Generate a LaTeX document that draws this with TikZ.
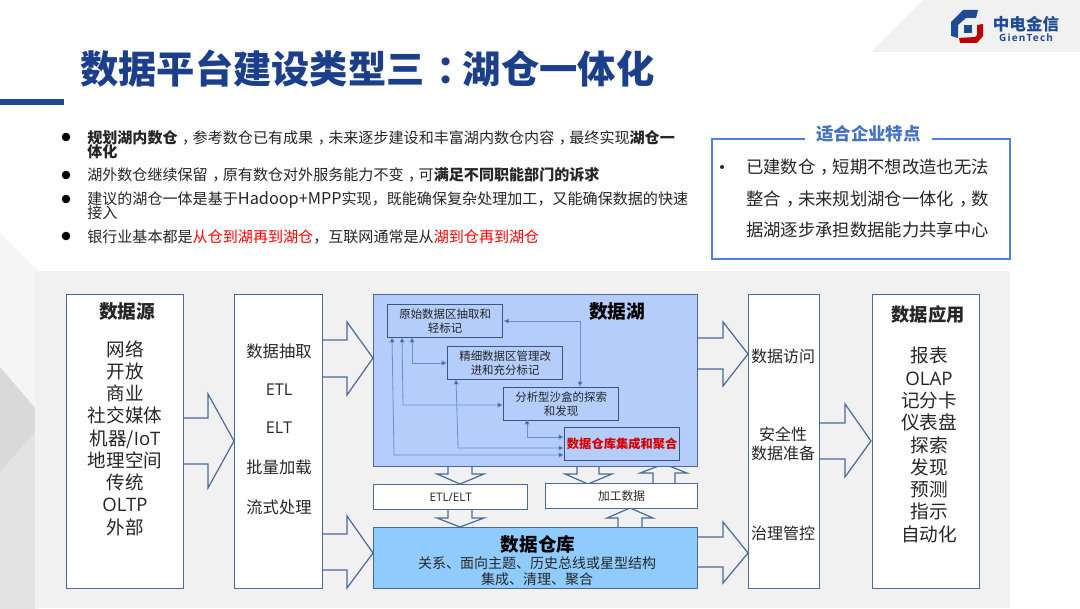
\documentclass[tikz,border=0pt]{standalone}
\usepackage{fontspec}
\setmainfont{Noto Sans CJK SC}
\newfontfamily\lat{Open Sans}
\usetikzlibrary{arrows.meta}
\definecolor{edge}{HTML}{4A6A9C}
\definecolor{navy}{HTML}{1F4A94}
\definecolor{titlec}{HTML}{1C3F8C}
\definecolor{lake}{HTML}{B4CDFB}
\definecolor{wh}{HTML}{8FCCFD}
\definecolor{panel}{HTML}{F1F1F1}
\definecolor{ink}{HTML}{262626}
\definecolor{linkc}{HTML}{6C8FCB}
\definecolor{featb}{HTML}{4F81E0}
\definecolor{featt}{HTML}{4472C4}
\newcommand{\ccm}{\hspace{.3em}，\hspace{-.3em}}
\tikzset{x=0.75pt,y=-0.75pt,
 box/.style={draw=edge,line width=1pt,fill=white,inner sep=0pt},
 thin2/.style={draw=edge,line width=.9pt,fill=panel},
 link/.style={draw=linkc,line width=.6pt,{Latex[length=4pt,width=4.2pt,fill=navy]}-{Latex[length=4pt,width=4.2pt,fill=navy]}},
 t/.style={text=ink,inner sep=0pt,align=center},
 bl/.style={anchor=west,inner sep=0pt,text=ink,font=\fontsize{11.3}{13}\selectfont},
}
\begin{document}
\begin{tikzpicture}
\useasboundingbox (0,0) rectangle (1080,609);
\fill[white] (0,0) rectangle (1080,609);
% backdrop
\fill[black!4] (0,233) -- (38,271) -- (38,609) -- (0,609) -- cycle;
\fill[black!15] (0,367) -- (35,408) -- (35,609) -- (0,609) -- cycle;
\fill[black!11] (35,432) -- (0,472) -- (0,609) -- (35,609) -- cycle;
\fill[panel] (35,271) rectangle (1010,608);
\fill[panel] (923,0) -- (1080,0) -- (1080,52) -- (871,52) -- cycle;
\fill[navy] (0,99) rectangle (64,105);
\node[anchor=west,inner sep=0pt,text=titlec,font=\bfseries\fontsize{28.7}{34}\selectfont] (title) at (80,69) {数据平台建设类型三\hspace{.3em}：\hspace{-.3em}湖仓一体化};
% logo
\fill[navy] (963,10) -- (978,10) -- (976,18) -- (966,18) -- (958,25) -- (958,38) -- (951,36) -- (951,22) -- cycle;
\fill[navy] (964,25) rectangle (972,33);
\fill[red!75!black] (983,24) -- (983,36) -- (977,43) -- (960,43) -- (959,38) -- (975,37) -- (977,35) -- (977,25) -- cycle;
\node[inner sep=0pt,text=navy,font=\bfseries\fontsize{12.4}{14}\selectfont] (logoa) at (1026,24) {中电金信};
\node[inner sep=0pt,text=navy,font=\lat\bfseries\fontsize{7.5}{9}\selectfont\addfontfeature{LetterSpace=12}] (logob) at (1026,38) {GienTech};
% bullets
\foreach \yy in {137,175,199,236}{\fill[black] (66,\yy) circle (4.3);}
\node[bl] (l1) at (87,138) {\textbf{规划湖内数仓}\ccm 参考数仓已有成果\ccm 未来逐步建设和丰富湖内数仓内容\ccm 最终实现\textbf{湖仓一}};
\node[bl,font=\bfseries\fontsize{11.3}{13}\selectfont] (l1b) at (87,152) {体化};
\node[bl] (l2) at (87,175) {湖外数仓继续保留\ccm 原有数仓对外服务能力不变\ccm 可\textbf{满足不同职能部门的诉求}};
\node[bl] (l3) at (87,200) {建议的湖仓一体是基于{\fontsize{12.2}{13}\selectfont Hadoop+MPP}实现，既能确保复杂处理加工，又能确保数据的快速};
\node[bl] (l3b) at (87,213) {接入};
\node[bl] (l4) at (87,237) {银行业基本都是\textcolor{red}{从仓到湖再到湖仓}，互联网通常是从\textcolor{red}{湖到仓再到湖仓}};
% feature box
\draw[draw=featb,line width=1.2pt] (712,139) rectangle (1010,259);
\node[fill=white,minimum width=95pt,minimum height=14pt,inner sep=0pt,text=featt,font=\bfseries\fontsize{13.1}{15}\selectfont] (ft) at (868.5,134) {适合企业特点};
\fill[ink] (722,167) circle (2);
\node[anchor=north west,inner sep=0pt,text=ink,align=left,font=\fontsize{13}{23.6}\selectfont] (fb) at (746,159) {已建数仓\ccm 短期不想改造也无法\\整合\ccm 未来规划湖仓一体化\ccm 数\\据湖逐步承担数据能力共享中心};
% big arrows
\draw[thin2] (183,418) -- (208,418) -- (208,394) -- (234,441) -- (208,488) -- (208,464) -- (183,464);
\draw[thin2] (322,340) -- (347,340) -- (347,322) -- (373,358) -- (347,395) -- (347,377) -- (322,377);
\draw[thin2] (322,534) -- (347,534) -- (347,516) -- (373,553) -- (347,588) -- (347,570) -- (322,570);
\draw[thin2] (697,338) -- (723,338) -- (723,322) -- (748,354) -- (723,386) -- (723,369) -- (697,369);
\draw[thin2] (697,537) -- (723,537) -- (723,522) -- (748,553) -- (723,583) -- (723,567) -- (697,567);
\draw[thin2] (819,423) -- (845,423) -- (845,404) -- (871,441) -- (845,477) -- (845,459) -- (819,459);
% columns
\node[box,minimum width=87.75pt,minimum height=220.5pt,anchor=north west] (src) at (66,294) {};
\node[box,minimum width=66pt,minimum height=220.5pt,anchor=north west] (ext) at (234,294) {};
\node[box,minimum width=53.25pt,minimum height=220.5pt,anchor=north west] (acc) at (748,294) {};
\node[box,minimum width=80.25pt,minimum height=220.5pt,anchor=north west] (app) at (872,294) {};
\node[t,font=\bfseries\fontsize{14}{16}\selectfont] (srct) at (127,311) {数据源};
\node[t,anchor=north,font=\fontsize{13.9}{16.7}\selectfont] (srcb) at (125,340) {网络\\开放\\商业\\社交媒体\\机器/{\lat IoT}\\地理空间\\传统\\{\lat OLTP}\\外部};
\node[t,font=\fontsize{12.2}{14}\selectfont] (e1) at (279,351) {数据抽取};
\node[t,font=\lat\fontsize{12.2}{14}\selectfont] (e2) at (279,390) {ETL};
\node[t,font=\lat\fontsize{12.2}{14}\selectfont] (e3) at (279,428) {ELT};
\node[t,font=\fontsize{12.2}{14}\selectfont] (e4) at (279,467) {批量加载};
\node[t,font=\fontsize{12.2}{14}\selectfont] (e5) at (279,507) {流式处理};
\node[t,font=\fontsize{12}{14}\selectfont] (a1) at (783,356) {数据访问};
\node[t,font=\fontsize{12}{14}\selectfont] (a2) at (783,444) {安全性\\数据准备};
\node[t,font=\fontsize{12}{14}\selectfont] (a3) at (783,533) {治理管控};
\node[t,font=\bfseries\fontsize{13.7}{16}\selectfont] (appt) at (928,315) {数据应用};
\node[t,anchor=north,font=\fontsize{14}{16.7}\selectfont] (appb) at (929,347) {报表\\{\lat OLAP}\\记分卡\\仪表盘\\探索\\发现\\预测\\指示\\自动化};
% small block arrows
\tikzset{sarrow/.style={draw=edge,line width=.9pt,fill=panel}}
\draw[sarrow] (448,466) -- (448,474) -- (437,474) -- (460,484) -- (484,474) -- (472,474) -- (472,466);
\draw[sarrow] (448,509) -- (448,518) -- (437,518) -- (460,527) -- (484,518) -- (472,518) -- (472,509);
\draw[sarrow] (577,466) -- (577,474) -- (565,474) -- (588,484) -- (612,474) -- (599,474) -- (599,466);
\draw[sarrow] (653,484) -- (653,473) -- (640,473) -- (664,464) -- (687,473) -- (675,473) -- (675,484);
\draw[sarrow] (618,527) -- (618,518) -- (607,518) -- (630,508) -- (653,518) -- (642,518) -- (642,527);
% lake
\node[box,fill=lake,minimum width=243pt,minimum height=129pt,anchor=north west] (lake) at (373,294) {};
\node[t,text=black,font=\bfseries\fontsize{14}{16}\selectfont] (laket) at (617,311) {数据湖};
\tikzset{sub/.style={draw=edge!80!black,line width=1pt,fill=lake,inner sep=0pt,text=ink,align=center,minimum width=86.25pt,minimum height=24.5pt,font=\fontsize{8.6}{10.5}\selectfont,anchor=north west}}
\node[sub] (r1) at (387,304) {原始数据区抽取和\\轻标记};
\node[sub] (r2) at (447,346) {精细数据区管理改\\进和充分标记};
\node[sub] (r3) at (503,387) {分析型沙盒的探索\\和发现};
\node[sub,text=red!85!black,font=\bfseries\fontsize{9.2}{11}\selectfont] (r4) at (564,427) {数据仓库集成和聚合};
% lake links
\coordinate (j1) at (580,321);
\coordinate (j1e) at (580,387);
\draw[link] (r1.east |- j1) -- (j1) -- (j1e);
\coordinate (s2) at (412,337);
\coordinate (j2) at (412,363);
\draw[link] (s2) -- (j2) -- (r2.west |- j2);
\coordinate (s3) at (402,337);
\coordinate (j3) at (403,405);
\draw[link] (s3) -- (j3) -- (r3.west |- j3);
\coordinate (s4) at (527,419);
\coordinate (j4) at (527,437);
\draw[link] (s4) -- (j4) -- (r4.west |- j4);
\coordinate (s5) at (456,379);
\coordinate (j5) at (458,448);
\draw[link] (s5) -- (j5) -- (r4.west |- j5);
\coordinate (s6) at (392,337);
\coordinate (j6) at (394,455);
\draw[link] (s6) -- (j6) -- (r4.west |- j6);
% middle
\node[box,minimum width=115.5pt,minimum height=18.75pt,anchor=north west,text=ink,font=\lat\fontsize{8.8}{10}\selectfont] (etl) at (373,484) {ETL/ELT};
\node[box,minimum width=114pt,minimum height=18.75pt,anchor=north west,text=ink,font=\fontsize{8.8}{10}\selectfont] (proc) at (545,483) {加工数据};
\node[box,fill=wh,minimum width=243pt,minimum height=45.75pt,anchor=north west] (dw) at (373,527) {};
\node[t,text=black,font=\bfseries\fontsize{13.9}{16}\selectfont] (dwt) at (538,544) {数据仓库};
\node[t,font=\fontsize{10.5}{12}\selectfont] (dwb) at (537,571) {关系、面向主题、历史总线或星型结构\\集成、清理、聚合};
\end{tikzpicture}
\end{document}
